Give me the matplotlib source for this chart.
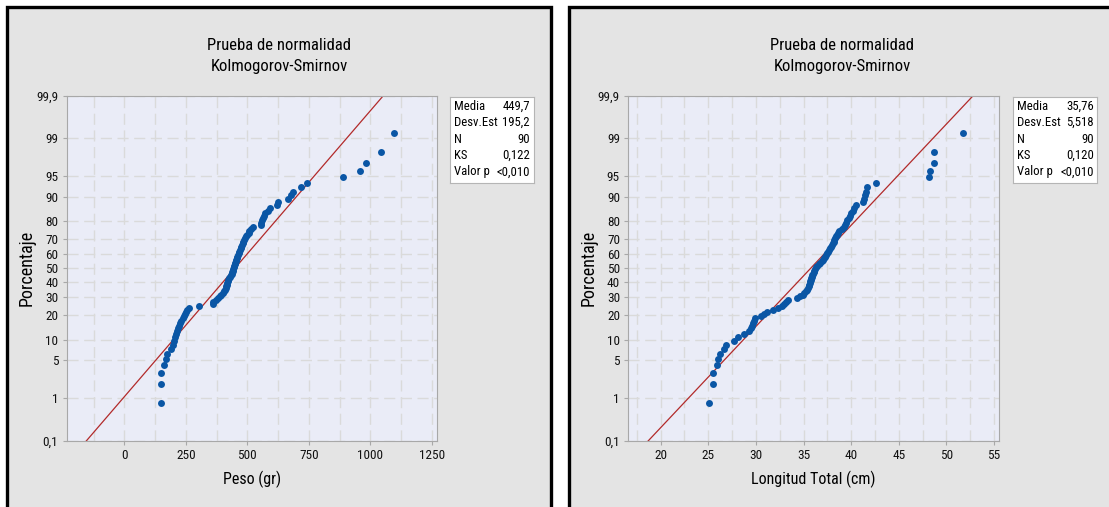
"""Normal probability plots (Kolmogorov-Smirnov) for peso and longitud total."""

from statistics import NormalDist

import matplotlib

matplotlib.use("Agg")
import matplotlib.pyplot as plt
import numpy as np
from matplotlib import font_manager
from matplotlib.patches import Rectangle
from matplotlib.ticker import FixedLocator, MultipleLocator

# sorted sample values (n = 90 each)
peso = [
    149, 149, 150, 163, 168, 175, 189, 199, 203, 206,
    210, 213, 217, 221, 226, 232, 237, 242, 247, 252,
    257, 262, 305, 359, 362, 371, 381, 390, 395, 400,
    405, 410, 412, 414, 416, 419, 421, 423, 426, 430,
    433, 436, 439, 441, 443, 445, 447, 449, 451, 453,
    455, 458, 460, 463, 465, 467, 470, 473, 475, 478,
    481, 484, 488, 492, 496, 500, 505, 509, 516, 523,
    554, 557, 560, 564, 568, 573, 583, 594, 620, 624,
    667, 677, 687, 718, 741, 888, 960, 982, 1044, 1096,
]
longitud = [
    25.1, 25.5, 25.5, 25.9, 26.0, 26.2, 26.7, 26.9, 27.7, 28.1,
    28.8, 29.3, 29.5, 29.6, 29.7, 29.8, 29.9, 30.5, 30.9, 31.2,
    31.8, 32.3, 32.7, 33.0, 33.2, 33.4, 34.3, 34.6, 34.9, 35.1,
    35.3, 35.4, 35.5, 35.55, 35.6, 35.7, 35.7, 35.75, 35.8, 35.85,
    35.9, 35.95, 36.05, 36.1, 36.2, 36.3, 36.45, 36.6, 36.75, 36.9,
    37.0, 37.1, 37.25, 37.4, 37.5, 37.55, 37.65, 37.75, 37.85, 37.95,
    38.05, 38.15, 38.2, 38.3, 38.4, 38.5, 38.6, 38.7, 39.0, 39.2,
    39.4, 39.5, 39.6, 39.75, 39.9, 40.0, 40.2, 40.35, 40.5, 41.3,
    41.4, 41.5, 41.6, 41.7, 42.6, 48.2, 48.3, 48.7, 48.7, 51.7,
]

pct_ticks = [0.1, 1, 5, 10, 20, 30, 40, 50, 60, 70, 80, 90, 95, 99, 99.9]
pct_labels = ["0,1", "1", "5", "10", "20", "30", "40", "50", "60", "70",
              "80", "90", "95", "99", "99,9"]

peso_ticks = [0, 250, 500, 750, 1000, 1250]
longitud_ticks = [20, 25, 30, 35, 40, 45, 50, 55]

stats_names = ["Media", "Desv.Est", "N", "KS", "Valor p"]
peso_stats = ["449,7", "195,2", "90", "0,122", "<0,010"]
longitud_stats = ["35,76", "5,518", "90", "0,120", "<0,010"]
peso_mean, peso_sd = 449.7, 195.2
longitud_mean, longitud_sd = 35.76, 5.518

W, H = 1109, 507

available = {f.name for f in font_manager.fontManager.ttflist}
font = "DejaVu Sans"
for cand in ["Liberation Sans Narrow", "Roboto Condensed", "Roboto", "Open Sans"]:
    if cand in available:
        font = cand
        break
plt.rcParams["font.family"] = [font, "DejaVu Sans"]

_nd = NormalDist()
_inv = np.vectorize(lambda v: _nd.inv_cdf(v) if np.isfinite(v) else np.nan, otypes=[float])
_cdf = np.vectorize(lambda v: _nd.cdf(v) if np.isfinite(v) else np.nan, otypes=[float])


def pct_to_z(p):
    p = np.clip(np.asarray(p, dtype=float) / 100.0, 1e-12, 1 - 1e-12)
    return _inv(p)


def z_to_pct(z):
    return 100.0 * _cdf(np.asarray(z, dtype=float))


def fx(px):
    return px / W


def fy(py):
    return 1 - py / H


def draw_panel(fig, frame, ax_px, values, mean, sd, xlim, xticks, xstep, xlabel,
               stats_vals, box_px, ylabel_x):
    # gray panel with thick black frame
    x0, x1 = frame
    fig.patches.append(Rectangle((fx(x0), -0.05), fx(x1) - fx(x0), fy(7) + 0.05,
                                 transform=fig.transFigure, facecolor="#e4e4e4",
                                 edgecolor="black", linewidth=2.4, zorder=-5))

    ax0, ax1 = ax_px
    ax = fig.add_axes([fx(ax0), fy(440.7), fx(ax1) - fx(ax0), (440.7 - 95.7) / H])
    ax.set_facecolor("#eaecf7")
    for sp in ax.spines.values():
        sp.set_color("#a8a8a8")
        sp.set_linewidth(0.8)

    ax.set_yscale("function", functions=(pct_to_z, z_to_pct))
    ax.set_ylim(0.1, 99.9)
    ax.yaxis.set_major_locator(FixedLocator(pct_ticks))
    ax.set_yticklabels(pct_labels)
    ax.yaxis.set_minor_locator(FixedLocator([]))

    ax.set_xlim(*xlim)
    ax.set_xticks(xticks)
    ax.xaxis.set_minor_locator(MultipleLocator(xstep / 2))
    ax.tick_params(which="major", length=3, color="#a8a8a8", labelsize=9.5,
                   labelcolor="#111111", pad=3)
    ax.tick_params(which="minor", length=0)

    ax.grid(True, axis="x", which="both", color="#dadada", linewidth=1.0,
            linestyle=(0, (8, 4)))
    ax.grid(True, axis="y", which="major", color="#dadada", linewidth=1.0,
            linestyle=(0, (8, 4)))
    ax.set_axisbelow(True)

    n = len(values)
    pos = (np.arange(1, n + 1) - 0.3) / (n + 0.4) * 100
    xs = np.linspace(xlim[0], xlim[1], 400)
    ax.plot(xs, z_to_pct((xs - mean) / sd), color="#b22a2a", linewidth=0.9, zorder=2)
    ax.plot(values, pos, "o", markersize=5, color="#0a56a5", markeredgewidth=0,
            zorder=3)

    ax.set_xlabel(xlabel, fontsize=11.5, color="black", labelpad=6)

    fig.text(ylabel_x, fy(268), "Porcentaje", rotation=90, ha="center", va="center",
             fontsize=13, color="black")
    cx = fx((x0 + x1) / 2)
    fig.text(cx, fy(45), "Prueba de normalidad", ha="center", va="center",
             fontsize=12, color="black")
    fig.text(cx, fy(67), "Kolmogorov-Smirnov", ha="center", va="center",
             fontsize=12, color="black")

    # statistics box
    bx0, bx1, lab_x, val_x = box_px
    box = fig.add_axes([fx(bx0), fy(183), fx(bx1) - fx(bx0), (183 - 97) / H])
    box.set_xticks([])
    box.set_yticks([])
    box.set_facecolor("white")
    for sp in box.spines.values():
        sp.set_color("#b5b5b5")
        sp.set_linewidth(0.8)
    for i, (name, val) in enumerate(zip(stats_names, stats_vals)):
        yy = fy(106 + i * 16.5)
        fig.text(fx(lab_x), yy, name, ha="left", va="center", fontsize=9.2,
                 color="black")
        fig.text(fx(val_x), yy, val, ha="right", va="center", fontsize=9.2,
                 color="black")
    return ax


def main() -> None:
    fig = plt.figure(figsize=(W / 100, H / 100), dpi=100)
    fig.patch.set_facecolor("white")

    draw_panel(fig, (7, 551), (66.7, 436.7), peso, peso_mean, peso_sd,
               (-234, 1270), peso_ticks, 250, "Peso (gr)", peso_stats,
               (450, 534, 454, 530), fx(27))
    draw_panel(fig, (569, 1115), (628.3, 999.0), longitud, longitud_mean, longitud_sd,
               (16.6, 55.53), longitud_ticks, 5, "Longitud Total (cm)", longitud_stats,
               (1013, 1097, 1017, 1094), fx(589))

    fig.savefig("out.png", dpi=100)


if __name__ == "__main__":
    main()
